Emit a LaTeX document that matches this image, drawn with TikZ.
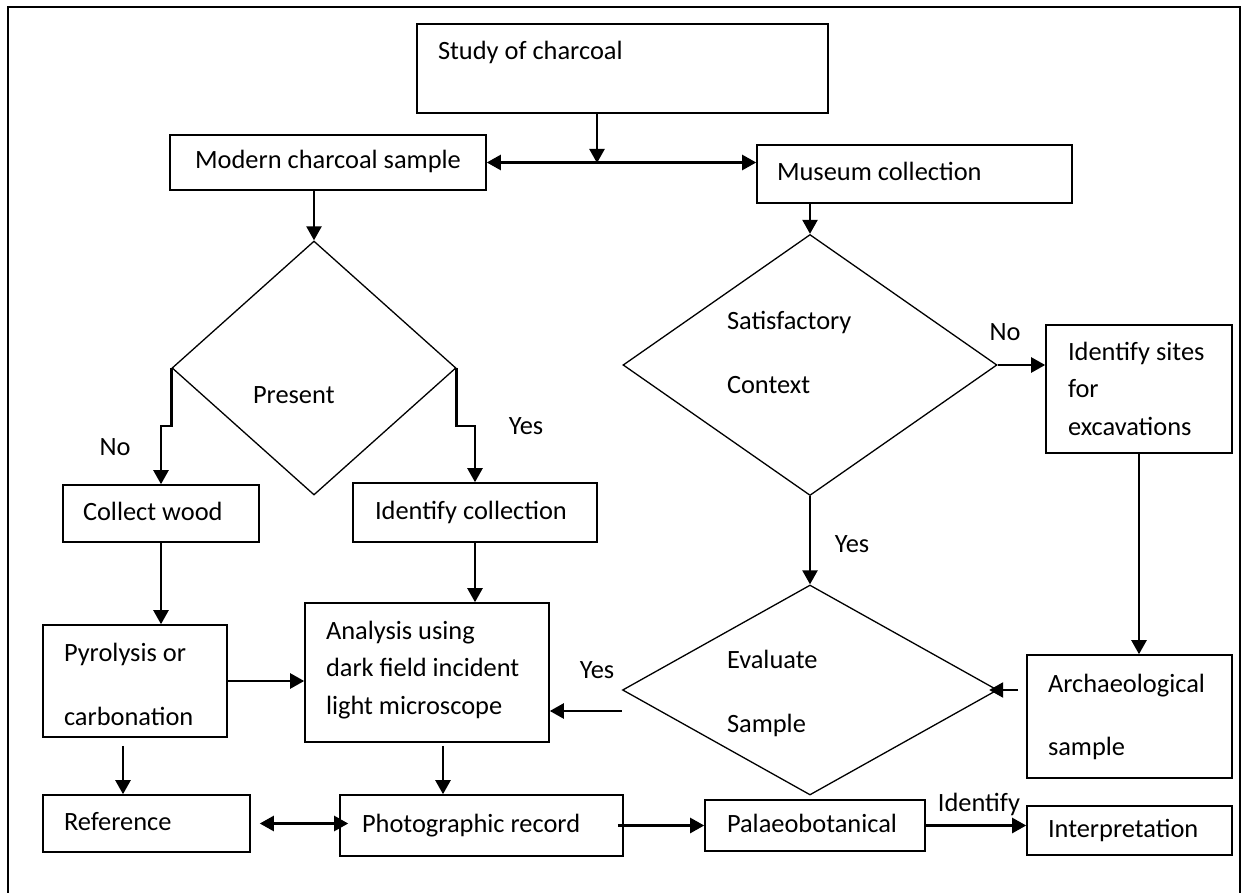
\documentclass[tikz,border=0pt]{standalone}
\usepackage{fontspec}
\setmainfont{Carlito}
\usetikzlibrary{arrows.meta,shapes.geometric}
\tikzset{
  box/.style={draw,line width=1.6pt,inner sep=0pt,align=flush left,text height=19pt,text depth=6pt},
  dia/.style={diamond,aspect=1.6,draw,line width=1.3pt,inner sep=0pt,align=flush left},
  arr/.style={-{Triangle[length=14pt,width=15pt]},line width=2.4pt},
  darr/.style={{Triangle[length=14pt,width=15pt]}-{Triangle[length=14pt,width=15pt]},line width=2.4pt},
  lbl/.style={inner sep=0pt,text height=19pt,text depth=6pt},
}

\begin{document}
\begin{tikzpicture}[x=1pt,y=-1pt,font=\fontsize{26.4pt}{32pt}\selectfont]
  \useasboundingbox (0,0) rectangle (1248,893);
  \draw[line width=2pt] (8,893) |- (1240,7) -- (1240,893);
  % ===== top: study and its two branches =====
  \node[box,minimum width=411pt,minimum height=89pt,text width=369pt,text depth=36pt] (study) at (622.5,68.5) {Study of charcoal};
  \node[box,minimum width=316pt,minimum height=55pt,align=center] (modern) at (328,162.5) {Modern charcoal sample};
  \node[box,minimum width=315pt,minimum height=58pt,text width=275pt] (museum) at (914.5,174) {Museum collection};
  \coordinate (split) at (597,163);
  \draw[arr] (study.south -| split) -- (split);
  \draw[darr] (modern.east) -- (modern.east -| museum.west);
  % ===== left: modern charcoal =====
  \node[dia,minimum width=284pt,minimum height=254pt,text width=122pt,text height=76pt,text depth=6pt] (present) at (314,368) {Present};
  \node[box,minimum width=196pt,minimum height=57pt,text width=156pt] (collect) at (161,513.5) {Collect wood};
  \node[box,minimum width=244pt,minimum height=59pt,text width=200pt] (idcoll) at (475,512.5) {Identify collection};
  \node[box,minimum width=184pt,minimum height=112pt,text width=142pt,text height=30pt,text depth=70pt] (pyro) at (135,681) {Pyrolysis or\\[32pt]carbonation};
  \node[box,minimum width=244pt,minimum height=139pt,text width=202pt,text height=14pt,text depth=81pt] (analysis) at (427,672.5) {Analysis using\\[5.5pt]dark field incident\\[5.5pt]light microscope};
  \node[box,minimum width=207pt,minimum height=57pt,text width=165pt] (reference) at (146.5,823.5) {Reference};
  \node[box,minimum width=283pt,minimum height=61pt,text width=239pt] (photo) at (481.5,825.5) {Photographic record};
  \draw[arr] (present.north |- modern.south) -- (present.north);
  \draw[arr] (present.west) -- ++(0,58) -| (collect.north);
  \draw[arr] (present.east) -- ++(0,58) -| (idcoll.north);
  \node[lbl] (no1) at (115,449) {No};
  \node[lbl] (yes1) at (526,428) {Yes};
  \draw[arr] (collect.south) -- (collect.south |- pyro.north);
  \draw[arr] (idcoll.south) -- (idcoll.south |- analysis.north);
  \draw[arr] (pyro.east) -- (pyro.east -| analysis.west);
  \draw[arr] ([shift={(-12pt,-8pt)}]pyro.south) -- ([xshift=-12pt]pyro.south |- reference.north);
  \draw[arr] ([shift={(16pt,-3pt)}]analysis.south) -- ([xshift=16pt]analysis.south |- photo.north);
  \draw[darr] ([xshift=9pt]reference.east) -- ([xshift=9pt]reference.east -| photo.west);
  % ===== right: museum collection =====
  \node[dia,minimum width=374pt,minimum height=261pt,text width=166pt,text height=0pt,text depth=70pt] (satis) at (810,365) {Satisfactory\\[32pt]Context};
  \node[box,minimum width=186pt,minimum height=128pt,text width=142pt,text height=23pt,text depth=81pt] (sites) at (1139,389) {Identify sites\\[5.5pt]for\\[5.5pt]excavations};
  \node[dia,minimum width=375pt,minimum height=210pt,text width=166pt,text height=26pt,text depth=70pt] (eval) at (810,690) {Evaluate\\[32pt]Sample};
  \node[box,minimum width=205pt,minimum height=123pt,text width=163pt,text height=20pt,text depth=69pt] (arch) at (1129.5,716.5) {Archaeological\\[31pt]sample};
  \node[box,minimum width=220pt,minimum height=51pt,text width=176pt] (palaeo) at (815,825.5) {Palaeobotanical};
  \node[box,minimum width=205pt,minimum height=49pt,text width=163pt] (interp) at (1129.5,830.5) {Interpretation};
  \draw[arr] (satis.north |- museum.south) -- (satis.north);
  \draw[arr] (satis.east) -- (satis.east -| sites.west);
  \node[lbl] (no2) at (1005,334) {No};
  \draw[arr] (satis.south) -- (eval.north);
  \node[lbl] (yes2) at (852,546) {Yes};
  \draw[arr] (sites.south) -- (sites.south |- arch.north);
  \draw[arr] ([xshift=-8pt]arch.west |- eval.east) -- ([xshift=-9pt]eval.east);
  \draw[arr] ([yshift=-21pt]eval.west) -- ([yshift=-21pt]eval.west -| analysis.east);
  \node[lbl] (yes3) at (597,672) {Yes};
  % ===== bottom row =====
  \draw[arr] ([xshift=-6pt]photo.east) -- (palaeo.west);
  \draw[arr] (palaeo.east) -- (palaeo.east -| interp.west);
  \node[lbl] (identify) at (979,805) {Identify};
\end{tikzpicture}
\end{document}
